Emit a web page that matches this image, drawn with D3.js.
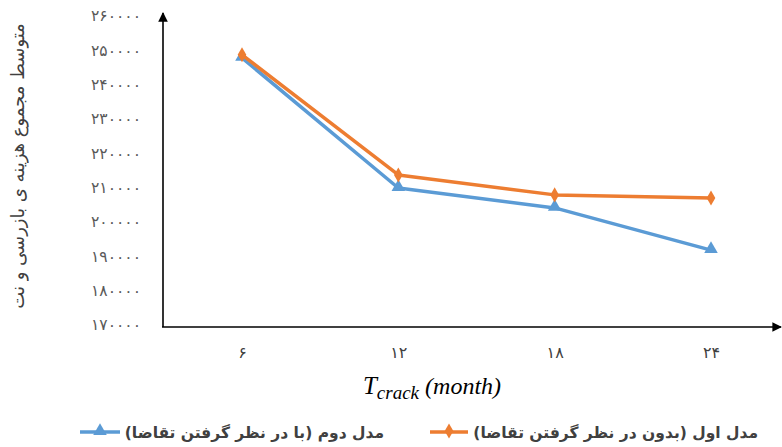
<!DOCTYPE html>
<html>
<head>
<meta charset="utf-8">
<script src="https://cdn.jsdelivr.net/npm/d3@7"></script>
<style>
  body { margin: 0; background: #fff; }
  svg { display: block; }
</style>
</head>
<body>
<svg id="chart" width="782" height="447"></svg>
<script>
const months = [6, 12, 18, 24];
const monthLabels = ["۶", "۱۲", "۱۸", "۲۴"];
const model1 = [248700, 213700, 207900, 207000]; // orange, without demand
const model2 = [247800, 209900, 204100, 191800]; // blue, with demand
const yTicks = [170000, 180000, 190000, 200000, 210000, 220000, 230000, 240000, 250000, 260000];
const yTickLabels = ["۱۷۰۰۰۰", "۱۸۰۰۰۰", "۱۹۰۰۰۰", "۲۰۰۰۰۰", "۲۱۰۰۰۰", "۲۲۰۰۰۰", "۲۳۰۰۰۰", "۲۴۰۰۰۰", "۲۵۰۰۰۰", "۲۶۰۰۰۰"];
const seriesNames = ["مدل دوم (با در نظر گرفتن تقاضا)", "مدل اول (بدون در نظر گرفتن تقاضا)"];
const yTitle = "متوسط مجموع هزینه ی بازرسی و نت";

const BLUE = "#5B9BD5";
const ORANGE = "#ED7D31";
const FONT = "DejaVu Sans, Noto Sans, sans-serif";

const svg = d3.select("#chart");

const x = d3.scaleLinear().domain([6, 24]).range([242, 711]);
const y = d3.scaleLinear().domain([170000, 260000]).range([325, 16]);

const defs = svg.append("defs");
defs.append("marker")
  .attr("id", "arrow")
  .attr("viewBox", "0 0 10 10")
  .attr("refX", 9).attr("refY", 5)
  .attr("markerWidth", 6).attr("markerHeight", 6)
  .attr("markerUnits", "strokeWidth")
  .attr("orient", "auto")
  .append("path")
  .attr("d", "M0,0 L10,5 L0,10 z")
  .attr("fill", "#000");

// axes
svg.append("line")
  .attr("x1", 163).attr("y1", 327).attr("x2", 163).attr("y2", 13)
  .attr("stroke", "#000").attr("stroke-width", 1.6)
  .attr("marker-end", "url(#arrow)");
svg.append("line")
  .attr("x1", 162).attr("y1", 327).attr("x2", 781).attr("y2", 327)
  .attr("stroke", "#000").attr("stroke-width", 1.6)
  .attr("marker-end", "url(#arrow)");

const yAxis = d3.axisLeft(y)
  .tickValues(yTicks)
  .tickSize(0)
  .tickPadding(0)
  .tickFormat((d, i) => yTickLabels[i]);

const yg = svg.append("g")
  .attr("transform", "translate(141,0)")
  .call(yAxis);
yg.select(".domain").remove();
yg.selectAll("text")
  .attr("font-family", FONT)
  .attr("font-size", 15.5)
  .attr("fill", "#595959");

const xAxis = d3.axisBottom(x)
  .tickValues(months)
  .tickSize(0)
  .tickPadding(0)
  .tickFormat((d, i) => monthLabels[i]);

const xg = svg.append("g")
  .attr("transform", "translate(0,347)")
  .call(xAxis);
xg.select(".domain").remove();
xg.selectAll("text")
  .attr("font-family", FONT)
  .attr("font-size", 16)
  .attr("fill", "#404040");

// y title
svg.append("text")
  .attr("transform", "translate(24,166) rotate(-90)")
  .attr("text-anchor", "middle")
  .attr("direction", "rtl")
  .attr("font-family", FONT)
  .attr("font-size", 18)
  .attr("fill", "#404040")
  .text(yTitle);

// x title
const xt = svg.append("text")
  .attr("x", 432).attr("y", 394)
  .attr("text-anchor", "middle")
  .attr("font-family", "Liberation Serif, DejaVu Serif, serif")
  .attr("font-style", "italic")
  .attr("fill", "#000");
xt.append("tspan").attr("font-size", 25).text("T");
xt.append("tspan").attr("font-size", 19).attr("dy", 5).text("crack");
xt.append("tspan").attr("font-size", 24).attr("dy", -5).text(" (month)");

// lines
const line = d3.line()
  .x((d, i) => x(months[i]))
  .y(d => y(d));

const triangle = d3.symbol().type(d3.symbolTriangle).size(80);
const diamond = d3.symbol().type(d3.symbolDiamond).size(65);

const series = [
  { values: model2, color: BLUE, symbol: triangle, dy: -1 },
  { values: model1, color: ORANGE, symbol: diamond, dy: 0 }
];

series.forEach(s => {
  svg.append("path")
    .datum(s.values)
    .attr("d", line)
    .attr("fill", "none")
    .attr("stroke", s.color)
    .attr("stroke-width", 3.5)
    .attr("stroke-linejoin", "round");
  svg.selectAll(null)
    .data(s.values)
    .enter()
    .append("path")
    .attr("d", s.symbol)
    .attr("transform", (d, i) => `translate(${x(months[i])},${y(d) + s.dy})`)
    .attr("fill", s.color);
});

// legend
const legend = [
  { name: seriesNames[0], color: BLUE, symbol: triangle, x1: 80, x2: 120, tx: 384 },
  { name: seriesNames[1], color: ORANGE, symbol: diamond, x1: 430, x2: 468, tx: 758 }
];
legend.forEach(l => {
  svg.append("line")
    .attr("x1", l.x1).attr("x2", l.x2)
    .attr("y1", 432).attr("y2", 432)
    .attr("stroke", l.color).attr("stroke-width", 3.5);
  svg.append("path")
    .attr("d", l.symbol)
    .attr("transform", `translate(${(l.x1 + l.x2) / 2},431)`)
    .attr("fill", l.color);
  svg.append("text")
    .attr("x", l.tx).attr("y", 438)
    .attr("direction", "rtl")
    .attr("text-anchor", "start")
    .attr("font-family", FONT)
    .attr("font-size", 15.5)
    .attr("font-weight", "bold")
    .attr("fill", "#404040")
    .text(l.name);
});
</script>
</body>
</html>
